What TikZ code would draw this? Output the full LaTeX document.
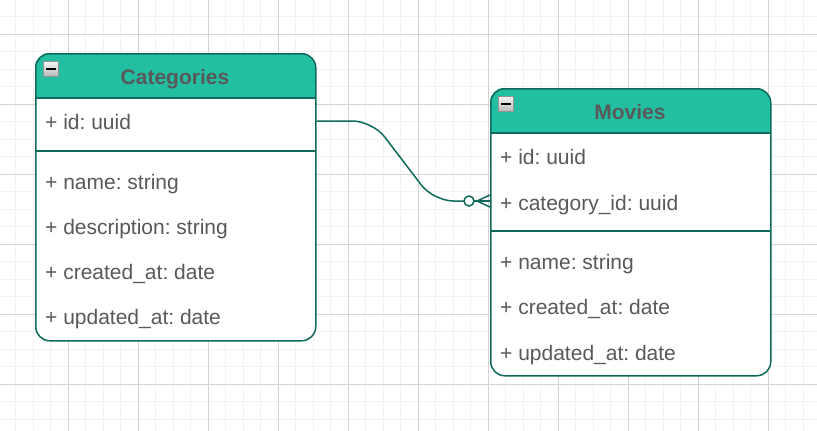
\documentclass[tikz,border=0pt]{standalone}
\usepackage{fontspec}
\setmainfont{Liberation Sans}
\usetikzlibrary{calc}
\definecolor{headfill}{HTML}{22BFA2}
\definecolor{edgecol}{HTML}{0E6B5B}
\definecolor{txt}{HTML}{595959}
\definecolor{gminor}{HTML}{F2F2F2}
\definecolor{gmajor}{HTML}{D4D4D4}
\frenchspacing
\begin{document}
\begin{tikzpicture}[x=1pt,y=-1pt,
  tablebox/.style={draw=edgecol, line width=1.5pt, rounded corners=14pt, minimum width=280pt, inner sep=0pt, anchor=north west},
  titletext/.style={font=\fontsize{21}{25}\selectfont\bfseries, text=txt, anchor=base, inner sep=0pt},
  rowtext/.style={font=\fontsize{21}{25}\selectfont, text=txt, anchor=base west, inner sep=0pt},
  sepline/.style={draw=edgecol, line width=1.5pt},
  iconbox/.style={draw=gray!85, top color=gray!8, bottom color=gray!55, minimum size=15pt, inner sep=0pt, anchor=north west, line width=0.8pt},
  iconbar/.style={draw=black, line width=2pt},
  rel/.style={draw=edgecol, line width=1.5pt, rounded corners=20pt},
  relend/.style={draw=edgecol, line width=1.5pt}]
\useasboundingbox (0,0) rectangle (817,431);
\fill[white] (0,0) rectangle (817,431);
% grid
\begin{scope}
\clip (0,0) rectangle (817,431);
\foreach \i in {0,...,47} {\draw[gminor, line width=1pt] ({-2+17.5*\i},0) -- ({-2+17.5*\i},431);}
\foreach \i in {0,...,25} {\draw[gminor, line width=1pt] (0,{-1+17.5*\i}) -- (817,{-1+17.5*\i});}
\foreach \i in {0,...,12} {\draw[gmajor, line width=1pt] ({-2+70*\i},0) -- ({-2+70*\i},431);}
\foreach \i in {0,...,6} {\draw[gmajor, line width=1pt] (0,{-36+70*\i}) -- (817,{-36+70*\i});}
\end{scope}

% ---------- Categories ----------
\fill[white, rounded corners=14pt] (35,53) rectangle (315,340);
\begin{scope}
\clip (30,48) rectangle (320,98);
\fill[headfill, rounded corners=14pt] (35,53) rectangle (315,340);
\end{scope}
\node[tablebox, minimum height=287pt] (cat) at (35,53) {};
\draw[sepline] (35,98) -- (315,98);
\draw[sepline] (35,151) -- (315,151);
\node[iconbox] (caticon) at (43,61) {};
\draw[iconbar] ($(caticon.center)+(-5,0)$) -- ($(caticon.center)+(5,0)$);
\node[titletext] (cattitle) at (175,84) {Categories};
\node[rowtext] (catid) at (45,129) {+ id: uuid};
\node[rowtext] (catname) at (45,189) {+ name: string};
\node[rowtext] (catdesc) at (45,234) {+ description: string};
\node[rowtext] (catcreated) at (45,279) {+ created\_at: date};
\node[rowtext] (catupdated) at (45,324) {+ updated\_at: date};

% ---------- Movies ----------
\fill[white, rounded corners=14pt] (490,88) rectangle (770,375);
\begin{scope}
\clip (485,83) rectangle (775,133);
\fill[headfill, rounded corners=14pt] (490,88) rectangle (770,375);
\end{scope}
\node[tablebox, minimum height=287pt] (mov) at (490,88) {};
\draw[sepline] (490,133) -- (770,133);
\draw[sepline] (490,231) -- (770,231);
\node[iconbox] (movicon) at (498,96) {};
\draw[iconbar] ($(movicon.center)+(-5,0)$) -- ($(movicon.center)+(5,0)$);
\node[titletext] (movtitle) at (630,119) {Movies};
\node[rowtext] (movid) at (500,164) {+ id: uuid};
\node[rowtext] (movcat) at (500,210) {+ category\_id: uuid};
\node[rowtext] (movname) at (500,269) {+ name: string};
\node[rowtext] (movcreated) at (500,314) {+ created\_at: date};
\node[rowtext] (movupdated) at (500,360) {+ updated\_at: date};

% ---------- relation ----------
\coordinate (src) at ($(cat.north east)+(0,68)$);
\coordinate (dst) at ($(mov.north west)+(0,113)$);
\coordinate (ring) at ($(dst)+(-21,0)$);
\draw[rel] (src) -- ($(src)+(56,0)$) -- ($(dst)+(-56.5,0)$) -- ($(dst)+(-26,0)$);
\draw[relend] ($(dst)+(-16,0)$) -- (dst);
\draw[relend] ($(dst)+(-13,0)$) -- ($(dst)+(0,-6)$);
\draw[relend] ($(dst)+(-13,0)$) -- ($(dst)+(0,6)$);
\draw[relend, fill=white] (ring) circle[radius=5pt];
\end{tikzpicture}
\end{document}
